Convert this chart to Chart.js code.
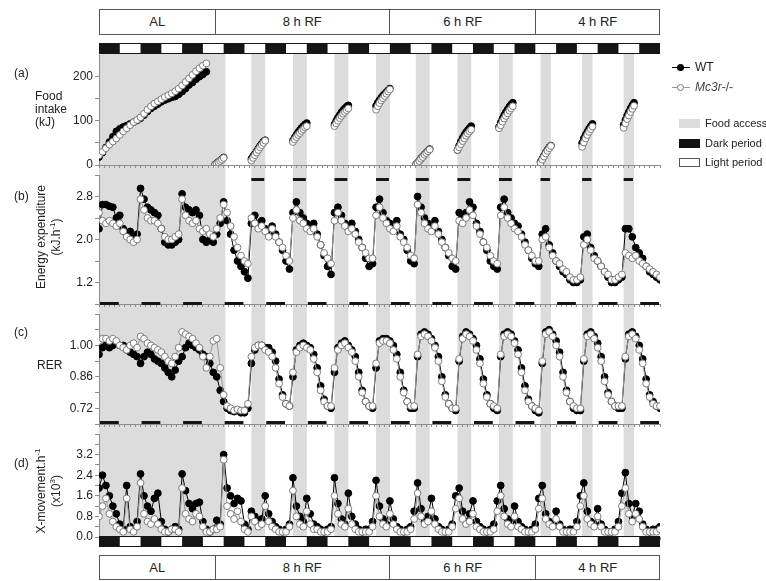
<!DOCTYPE html>
<html>
<head>
<meta charset="utf-8">
<script src="https://cdn.jsdelivr.net/npm/chart.js@4.4.1/dist/chart.umd.min.js"></script>
<style>
  body { margin: 0; background: #fff; font-family: "Liberation Sans", Arial, sans-serif; color: #222; }
  #wrap { position: relative; width: 766px; height: 581px; overflow: hidden; }
  canvas { position: absolute; left: 0; }
  .txt { position: absolute; font-size: 12px; line-height: 14px; white-space: nowrap; }
  .lg { position: absolute; font-size: 11px; line-height: 13px; white-space: nowrap; }
  .rot { position: absolute; font-size: 12px; line-height: 15px; white-space: nowrap; text-align: center;
         transform: translate(-50%, -50%) rotate(-90deg); }
  sup { font-size: 8px; line-height: 0; }
  .hdr { position: absolute; left: 99px; width: 561px; display: flex; border: 1px solid #555; box-sizing: border-box; background: #fff; }
  .hdr div { border-right: 1px solid #555; text-align: center; font-size: 13px; box-sizing: border-box;
             font-family: "Liberation Sans Narrow", "Liberation Sans", Arial, sans-serif; }
  .hdr div:last-child { border-right: none; }
  .sw { position: absolute; left: 679px; width: 21px; height: 9px; box-sizing: border-box; }
</style>
</head>
<body>
<div id="wrap">
  <canvas id="cA" width="766" height="130" style="top:40px"></canvas>
  <canvas id="cB" width="766" height="139" style="top:170px"></canvas>
  <canvas id="cC" width="766" height="120" style="top:309px"></canvas>
  <canvas id="cD" width="766" height="152" style="top:429px"></canvas>

  <div class="hdr" style="top:9px;height:26px;line-height:24px">
    <div style="width:116px">AL</div><div style="width:175px">8 h RF</div><div style="width:147px">6 h RF</div><div style="width:123px">4 h RF</div>
  </div>
  <div class="hdr" style="top:555px;height:25px;line-height:23px">
    <div style="width:116px">AL</div><div style="width:175px">8 h RF</div><div style="width:147px">6 h RF</div><div style="width:123px">4 h RF</div>
  </div>

  <div class="txt" style="left:14px;top:66px">(a)</div>
  <div class="txt" style="left:35px;top:90px;line-height:13px">Food<br>intake<br>(kJ)</div>
  <div class="txt" style="left:14px;top:189px">(b)</div>
  <div class="rot" style="left:49px;top:237px">Energy expenditure<br>(kJ.h<sup>-1</sup>)</div>
  <div class="txt" style="left:14px;top:325px">(c)</div>
  <div class="txt" style="left:37px;top:358px">RER</div>
  <div class="txt" style="left:14px;top:456px">(d)</div>
  <div class="rot" style="left:49px;top:491px">X-movement.h<sup>-1</sup><br>(x10<sup>3</sup>)</div>

  <div style="position:absolute;left:672px;top:67px;width:18px;height:1px;background:#000"></div>
  <div style="position:absolute;left:677px;top:64px;width:7px;height:7px;border-radius:50%;background:#000"></div>
  <div class="lg" style="left:695px;top:61px;font-size:12px">WT</div>
  <div style="position:absolute;left:672px;top:87px;width:18px;height:1px;background:#999"></div>
  <div style="position:absolute;left:677px;top:84px;width:7px;height:7px;border-radius:50%;background:#fff;border:1px solid #777;box-sizing:border-box"></div>
  <div class="lg" style="left:695px;top:81px;font-size:12px;color:#444"><i>Mc3r</i>-/-</div>
  <div class="sw" style="top:119px;background:#dcdcdc"></div>
  <div class="lg" style="left:705px;top:117px">Food access</div>
  <div class="sw" style="top:139px;background:#111"></div>
  <div class="lg" style="left:705px;top:137px">Dark period</div>
  <div class="sw" style="top:158px;background:#fff;border:1px solid #555"></div>
  <div class="lg" style="left:705px;top:156px">Light period</div>
</div>

<script>
// time axis (hours)
const X_MAX = 324;
const AL_END = 73;
const LIGHTS_OFF = [0, 24, 48, 72, 96, 120, 144, 168, 192, 216, 240, 264, 288, 312];
const FEED_WINDOWS = [[88, 96], [112, 120], [136, 144], [160, 168],
                      [183, 191], [207, 215], [231, 239],
                      [255, 261], [279, 285], [303, 309]];
const MINOR_HOURS = Array.from({length: 109}, (_, i) => i * 3);

// (a) food intake, cumulative kJ, in segments
const FOOD_SEG_START = [0, 67, 88, 112, 136, 160, 183, 207, 231, 255, 279, 303];
const FOOD_SEG_STEP = [2, 1, 1, 1, 1, 1, 1, 1, 1, 1, 1, 1];
const FOOD_WT = [
  [18, 28, 40, 52, 64, 76, 82, 86, 89, 93, 97, 101, 106, 113, 121, 128, 133, 138, 143, 147, 150, 153, 155, 160, 166, 173, 181, 187, 194, 200, 205, 211],
  [1, 4, 7, 10, 13, 17],
  [14, 20, 25, 31, 37, 43, 48, 53, 56],
  [55, 62, 68, 74, 79, 84, 88, 92, 95],
  [92, 100, 107, 113, 119, 124, 128, 132, 135],
  [134, 141, 147, 152, 157, 161, 165, 169, 173],
  [1, 5, 10, 15, 19, 24, 28, 32, 36],
  [34, 44, 53, 61, 68, 74, 79, 84, 88],
  [86, 96, 105, 113, 120, 126, 132, 137, 141],
  [7, 14, 21, 28, 34, 40, 44],
  [50, 60, 68, 75, 82, 88, 93],
  [91, 102, 112, 120, 128, 135, 141]
];
const FOOD_MC3R = [
  [22, 30, 38, 46, 53, 60, 68, 76, 83, 90, 97, 102, 108, 116, 125, 133, 139, 144, 149, 154, 158, 162, 167, 173, 180, 188, 196, 204, 212, 219, 225, 230],
  [0, 3, 6, 9, 12, 16],
  [10, 16, 22, 28, 34, 40, 45, 50, 55],
  [52, 58, 63, 68, 72, 77, 81, 85, 88],
  [88, 94, 100, 106, 111, 116, 120, 124, 128],
  [125, 133, 140, 146, 151, 156, 161, 166, 171],
  [0, 4, 9, 14, 18, 23, 27, 31, 35],
  [34, 40, 47, 54, 60, 66, 71, 76, 80],
  [83, 90, 98, 105, 111, 117, 123, 128, 133],
  [5, 12, 19, 26, 32, 38, 43],
  [41, 51, 60, 68, 75, 81, 87],
  [84, 94, 104, 112, 120, 127, 134]
];

// (b) energy expenditure kJ/h, every 2 h from 0 h
const EE_WT = [
  2.2, 2.65, 2.65, 2.62, 2.6, 2.4, 2.45, 2.2, 2.1, 2.15, 2.05, 2.1,
  2.95, 2.75, 2.6, 2.55, 2.5, 2.45, 2.2, 1.95, 1.9, 1.9, 1.95, 2.0,
  2.85, 2.6, 2.55, 2.5, 2.55, 2.45, 2.0, 1.95, 2.0, 1.95, 2.1, 2.3,
  2.7, 2.35, 2.1, 1.8, 1.6, 1.5, 1.4, 1.28, 2.3, 2.45, 2.3, 2.35,
  2.2, 2.1, 2.25, 2.1, 1.95, 1.8, 1.6, 1.45, 2.5, 2.7, 2.5, 2.4,
  2.3, 2.2, 2.3, 2.1, 1.9, 1.7, 1.5, 1.35, 2.5, 2.6, 2.45, 2.3,
  2.2, 2.3, 2.15, 2.0, 1.85, 1.65, 1.5, 1.55, 2.6, 2.75, 2.5, 2.35,
  2.3, 2.2, 2.35, 2.1, 2.0, 1.8, 1.6, 1.55, 2.8, 2.6, 2.4, 2.3,
  2.2, 2.35, 2.15, 2.0, 1.85, 1.7, 1.5, 1.45, 2.5, 2.45, 2.5, 2.7,
  2.6, 2.3, 2.15, 1.95, 1.8, 1.6, 1.5, 1.45, 2.6, 2.75, 2.5, 2.4,
  2.3, 2.25, 2.1, 1.95, 1.8, 1.65, 1.55, 1.5, 2.1, 2.2, 1.9, 1.75,
  1.6, 1.5, 1.4, 1.35, 1.25, 1.2, 1.2, 1.25, 2.05, 2.1, 1.85, 1.7,
  1.6, 1.5, 1.4, 1.3, 1.2, 1.2, 1.25, 1.3, 2.2, 2.2, 2.05, 1.85,
  1.75, 1.65, 1.5, 1.4, 1.35, 1.3, 1.25
];
const EE_MC3R = [
  2.5, 2.35, 2.3, 2.35, 2.3, 2.25, 2.3, 2.15, 2.05, 2.0, 1.95, 2.0,
  2.75, 2.55, 2.4, 2.35, 2.35, 2.3, 2.2, 2.05, 2.0, 2.0, 2.05, 2.1,
  2.75, 2.45, 2.35, 2.3, 2.35, 2.2, 2.15, 2.2, 2.1, 2.05, 2.2, 2.4,
  2.65, 2.5, 2.25, 2.05, 1.85, 1.7, 1.6, 1.55, 2.4, 2.3, 2.2, 2.25,
  2.15, 2.05, 2.2, 2.05, 1.95, 1.85, 1.7, 1.6, 2.4, 2.55, 2.35, 2.3,
  2.2, 2.15, 2.2, 2.05, 1.9, 1.75, 1.65, 1.55, 2.35, 2.5, 2.35, 2.25,
  2.15, 2.2, 2.1, 1.95, 1.85, 1.75, 1.65, 1.65, 2.45, 2.6, 2.4, 2.3,
  2.2, 2.15, 2.25, 2.05, 1.95, 1.85, 1.7, 1.65, 2.65, 2.5, 2.3, 2.2,
  2.15, 2.25, 2.1, 1.95, 1.85, 1.75, 1.65, 1.6, 2.35, 2.3, 2.4, 2.55,
  2.45, 2.25, 2.1, 1.95, 1.85, 1.7, 1.6, 1.55, 2.45, 2.6, 2.4, 2.3,
  2.2, 2.15, 2.05, 1.9, 1.8, 1.7, 1.6, 1.6, 2.0, 2.05, 1.85, 1.7,
  1.6, 1.55, 1.45, 1.4, 1.3, 1.25, 1.25, 1.3, 1.9, 2.0, 1.8, 1.65,
  1.6, 1.5, 1.4, 1.35, 1.25, 1.25, 1.3, 1.35, 1.75, 1.7, 1.65, 1.7,
  1.6, 1.55, 1.5, 1.45, 1.4, 1.35, 1.3
];

// (c) RER, every 2 h
const RER_WT = [
  0.96, 0.99, 1.0, 0.99, 1.0, 1.01, 1.0, 1.0, 0.98, 0.97, 0.96, 0.95,
  0.92, 0.95, 0.97, 0.96, 0.94, 0.93, 0.92, 0.9, 0.88, 0.86, 0.89, 0.93,
  0.95, 0.99, 1.01, 1.0, 0.99, 0.98, 0.96, 0.95, 0.92, 0.88, 0.86, 0.8,
  0.75, 0.72, 0.71, 0.705, 0.71, 0.70, 0.70, 0.72, 0.92, 0.98, 1.0, 1.0,
  0.99, 0.99, 0.97, 0.93, 0.85, 0.78, 0.74, 0.73, 0.86, 0.98, 1.0, 1.01,
  1.0, 0.99, 0.96, 0.9, 0.82, 0.76, 0.73, 0.72, 0.88, 0.99, 1.01, 1.02,
  1.0, 0.98, 0.95, 0.88, 0.8, 0.75, 0.73, 0.72, 0.9, 1.02, 1.03, 1.03,
  1.02, 1.0, 0.96, 0.88, 0.8, 0.75, 0.72, 0.72, 0.95, 1.05, 1.06, 1.05,
  1.03, 1.0, 0.95, 0.86, 0.78, 0.74, 0.72, 0.71, 0.93, 1.04, 1.06, 1.05,
  1.03, 1.0, 0.94, 0.85, 0.78, 0.74, 0.72, 0.71, 0.95, 1.05, 1.06, 1.05,
  1.02, 0.98, 0.9, 0.82, 0.76, 0.73, 0.71, 0.70, 0.92, 1.06, 1.07, 1.05,
  1.02, 0.97, 0.88, 0.8, 0.75, 0.72, 0.71, 0.71, 0.93, 1.05, 1.06, 1.04,
  1.01, 0.95, 0.86, 0.79, 0.75, 0.73, 0.72, 0.72, 0.94, 1.05, 1.06, 1.04,
  1.0, 0.94, 0.85, 0.78, 0.75, 0.73, 0.72
];
const RER_MC3R = [
  1.02, 1.03, 1.03, 1.02, 1.03, 1.02, 1.0, 0.99, 0.98, 1.0, 1.01, 0.99,
  1.04, 1.03, 1.01, 1.0, 0.99, 0.98, 0.97, 0.95, 0.93, 0.92, 0.95, 0.99,
  1.06, 1.05, 1.04, 1.03, 1.01, 0.99, 0.95, 0.9, 0.95, 1.02, 1.03, 0.9,
  0.78, 0.73, 0.72, 0.71, 0.715, 0.71, 0.71, 0.74, 0.95, 0.99, 1.0, 1.0,
  0.98, 0.97, 0.95, 0.9, 0.83, 0.77, 0.74, 0.73, 0.88, 0.97, 0.99, 1.0,
  0.99, 0.98, 0.94, 0.88, 0.8, 0.75, 0.73, 0.73, 0.9, 0.98, 1.0, 1.01,
  0.99, 0.97, 0.93, 0.86, 0.79, 0.75, 0.73, 0.73, 0.92, 1.01, 1.02, 1.02,
  1.01, 0.98, 0.94, 0.86, 0.79, 0.75, 0.73, 0.73, 0.96, 1.04, 1.05, 1.04,
  1.02, 0.99, 0.93, 0.84, 0.77, 0.74, 0.72, 0.72, 0.94, 1.03, 1.05, 1.04,
  1.02, 0.98, 0.92, 0.83, 0.77, 0.74, 0.73, 0.72, 0.96, 1.04, 1.05, 1.04,
  1.01, 0.96, 0.88, 0.8, 0.75, 0.73, 0.72, 0.71, 0.93, 1.05, 1.06, 1.04,
  1.0, 0.95, 0.86, 0.79, 0.75, 0.73, 0.72, 0.72, 0.94, 1.04, 1.05, 1.03,
  0.99, 0.93, 0.84, 0.78, 0.75, 0.73, 0.73, 0.73, 0.95, 1.04, 1.05, 1.03,
  0.98, 0.92, 0.83, 0.77, 0.74, 0.73, 0.73
];

// (d) X-movement per hour (x10^3), every 2 h
const MOVE_WT = [
  1.9, 2.4, 2.0, 1.6, 1.2, 0.9, 0.5, 0.3, 2.0, 0.4, 0.3, 0.6,
  2.45, 1.6, 1.2, 1.0, 1.5, 1.7, 0.6, 0.3, 0.2, 0.3, 0.4, 0.3,
  2.45, 1.8, 1.3, 1.1, 1.3, 1.35, 0.6, 0.3, 0.2, 0.3, 0.65, 0.5,
  3.2, 1.9, 1.6, 1.3, 1.5, 1.4, 0.5, 0.3, 1.0, 0.8, 0.5, 0.7,
  1.6, 0.9, 0.6, 0.4, 0.3, 0.2, 0.3, 0.5, 2.3, 1.2, 0.8, 0.6,
  1.5, 0.9, 0.5, 0.4, 0.3, 0.2, 0.3, 0.4, 2.3, 1.3, 0.7, 0.5,
  1.7, 0.8, 0.5, 0.3, 0.2, 0.3, 0.3, 0.6, 2.2, 1.2, 0.7, 0.5,
  1.4, 0.7, 0.4, 0.3, 0.2, 0.3, 0.4, 1.0, 2.1, 1.1, 0.6, 0.8,
  1.5, 0.7, 0.4, 0.3, 0.2, 0.3, 0.5, 1.6, 1.9, 1.0, 0.6, 0.9,
  1.4, 0.6, 0.4, 0.3, 0.2, 0.3, 0.5, 1.4, 2.0, 1.1, 0.7, 0.6,
  1.2, 0.6, 0.4, 0.3, 0.2, 0.3, 0.5, 1.5, 2.0, 0.9, 0.6, 0.5,
  1.0, 0.5, 0.3, 0.2, 0.3, 0.3, 0.6, 1.6, 2.1, 1.0, 0.6, 0.5,
  1.1, 0.5, 0.3, 0.2, 0.2, 0.3, 0.6, 1.7, 2.5, 1.3, 0.8, 1.3,
  1.0, 0.5, 0.3, 0.2, 0.3, 0.3, 0.4
];
const MOVE_MC3R = [
  0.8, 1.2, 1.5, 0.9, 0.6, 0.4, 0.3, 0.2, 1.5, 0.3, 0.2, 0.4,
  2.1, 0.9, 0.6, 0.5, 0.7, 0.5, 0.3, 0.2, 0.2, 0.3, 0.3, 0.2,
  1.9, 0.9, 0.7, 0.6, 0.9, 0.8, 0.4, 0.2, 0.2, 0.3, 0.3, 0.4,
  3.0, 1.2, 0.9, 0.7, 1.0, 0.6, 0.3, 0.2, 0.8, 0.6, 0.4, 0.5,
  1.2, 0.6, 0.4, 0.3, 0.2, 0.2, 0.2, 0.4, 1.8, 0.8, 0.5, 0.4,
  1.0, 0.5, 0.3, 0.3, 0.2, 0.2, 0.2, 0.3, 1.6, 0.9, 0.5, 0.4,
  1.1, 0.5, 0.3, 0.2, 0.2, 0.2, 0.2, 0.4, 1.6, 0.8, 0.5, 0.4,
  0.9, 0.5, 0.3, 0.2, 0.2, 0.2, 0.3, 0.7, 1.7, 0.8, 0.5, 0.6,
  1.0, 0.5, 0.3, 0.2, 0.2, 0.2, 0.4, 1.1, 1.5, 0.7, 0.5, 0.6,
  0.9, 0.4, 0.3, 0.2, 0.2, 0.2, 0.3, 1.0, 1.6, 0.8, 0.5, 0.4,
  0.8, 0.4, 0.3, 0.2, 0.2, 0.2, 0.3, 1.1, 1.5, 0.7, 0.5, 0.4,
  0.7, 0.4, 0.2, 0.2, 0.2, 0.2, 0.4, 1.2, 1.6, 0.7, 0.5, 0.4,
  0.8, 0.4, 0.2, 0.2, 0.2, 0.2, 0.4, 1.2, 1.9, 0.9, 0.6, 0.9,
  0.7, 0.4, 0.2, 0.2, 0.2, 0.2, 0.3
];

// y ticks
const FOOD_TICKS = [0, 50, 100, 150, 200];
const FOOD_LABELS = [0, 100, 200];
const EE_TICKS = [0.8, 1.2, 1.6, 2.0, 2.4, 2.8, 3.2];
const EE_LABELS = [1.2, 2.0, 2.8];
const RER_TICKS = [0.65, 0.72, 0.79, 0.86, 0.93, 1.00, 1.07, 1.14];
const RER_LABELS = [0.72, 0.86, 1.00];
const MOVE_TICKS = [0, 0.4, 0.8, 1.2, 1.6, 2.0, 2.4, 2.8, 3.2, 3.6, 4.0];
const MOVE_LABELS = [0, 0.8, 1.6, 2.4, 3.2];

const FONT = {family: '"Liberation Sans", Arial, sans-serif', size: 12};
const AXIS_GREY = '#8c8c8c';

const hoursOf = arr => arr.map((_, i) => i * 2);
const pts = arr => hoursOf(arr).map((h, i) => ({x: h, y: arr[i]}));

function foodPoints(series) {
  const out = [];
  series.forEach((vals, s) => {
    if (s > 0) out.push({x: FOOD_SEG_START[s] - 0.5, y: null});
    vals.forEach((v, i) => out.push({x: FOOD_SEG_START[s] + i * FOOD_SEG_STEP[s], y: v}));
  });
  return out;
}

function wtSet(data) {
  return {label: 'WT', data, borderColor: '#000', borderWidth: 1,
          pointRadius: 3.4, pointBackgroundColor: '#000', pointBorderColor: '#000', pointBorderWidth: 1};
}
function mcSet(data) {
  return {label: 'Mc3r-/-', data, borderColor: '#999', borderWidth: 1,
          pointRadius: 3.4, pointBackgroundColor: '#fff', pointBorderColor: '#6f6f6f', pointBorderWidth: 0.9};
}

function xScale() {
  return {
    type: 'linear', min: 0, max: X_MAX,
    afterBuildTicks: s => { s.ticks = MINOR_HOURS.map(v => ({value: v})); },
    ticks: {display: false, autoSkip: false},
    grid: {drawOnChartArea: false, drawTicks: true, tickLength: 3, color: AXIS_GREY},
    border: {color: AXIS_GREY},
    afterFit: s => { s.height = 3; s.paddingLeft = 0; s.paddingRight = 0; }
  };
}
function yScale(min, max, ticks, labels, digits) {
  return {
    type: 'linear', min, max,
    afterBuildTicks: s => { s.ticks = ticks.map(v => ({value: v})); },
    ticks: {
      autoSkip: false, padding: 2, color: '#222', font: FONT,
      callback: v => labels.some(l => Math.abs(l - v) < 1e-6) ? v.toFixed(digits) : ''
    },
    grid: {drawOnChartArea: false, drawTicks: true, tickLength: 4, color: AXIS_GREY},
    border: {color: AXIS_GREY},
    afterFit: s => { s.width = 99; s.paddingTop = 0; s.paddingBottom = 0; }
  };
}

const decor = {
  id: 'decor',
  beforeDraw(chart, _a, o) {
    const {ctx, scales: {x}} = chart;
    const px = v => x.getPixelForValue(v);
    const top = o.bgTop || 0;
    const h = (o.bgBottom || chart.height) - top;
    ctx.save();
    ctx.fillStyle = '#dcdcdc';
    ctx.fillRect(px(0), top, px(AL_END) - px(0), h);
    FEED_WINDOWS.forEach(([a, b]) => ctx.fillRect(px(a), top, px(b) - px(a), h));
    ctx.restore();
  },
  afterDraw(chart, _a, o) {
    const {ctx, scales: {x}} = chart;
    const px = v => x.getPixelForValue(v);
    ctx.save();
    if (o.dayBar) {
      const [y, h] = o.dayBar;
      ctx.fillStyle = '#fff';
      ctx.fillRect(px(0), y, px(X_MAX) - px(0), h);
      ctx.fillStyle = '#151515';
      LIGHTS_OFF.forEach(t => ctx.fillRect(px(t), y, px(t + 12) - px(t), h));
      ctx.strokeStyle = '#151515';
      ctx.lineWidth = 1;
      ctx.strokeRect(px(0) + 0.5, y + 0.5, px(X_MAX) - px(0) - 1, h - 1);
    }
    ctx.fillStyle = '#151515';
    if (o.darkMarks) {
      const [y, h] = o.darkMarks;
      LIGHTS_OFF.forEach(t => ctx.fillRect(px(t) + 1, y, px(t + 12) - px(t) - 2, h));
    }
    if (o.feedMarks) {
      const [y, h] = o.feedMarks;
      FEED_WINDOWS.forEach(([a, b]) => ctx.fillRect(px(a), y, px(b) - px(a) - 1, h));
    }
    ctx.restore();
  }
};

function panel(id, datasets, y, pad, decorOpts) {
  new Chart(document.getElementById(id), {
    type: 'line',
    data: {datasets},
    plugins: [decor],
    options: {
      responsive: false, animation: false, devicePixelRatio: 1,
      layout: {padding: {left: 0, right: 106, top: pad[0], bottom: pad[1]}},
      spanGaps: false,
      elements: {line: {tension: 0}},
      scales: {x: xScale(), y},
      plugins: {legend: {display: false}, tooltip: {enabled: false}, decor: decorOpts}
    }
  });
}

panel('cA', [mcSet(foodPoints(FOOD_MC3R)), wtSet(foodPoints(FOOD_WT))],
      yScale(0, 249, FOOD_TICKS, FOOD_LABELS, 0), [15, 0],
      {bgTop: 13, dayBar: [3, 11]});
panel('cB', [mcSet(pts(EE_MC3R)), wtSet(pts(EE_WT))],
      yScale(0.8, 3.2, EE_TICKS, EE_LABELS, 1), [4, 0],
      {darkMarks: [132, 3], feedMarks: [8, 3]});
panel('cC', [mcSet(pts(RER_MC3R)), wtSet(pts(RER_WT))],
      yScale(0.65, 1.14, RER_TICKS, RER_LABELS, 2), [4, 0],
      {darkMarks: [112, 3]});
panel('cD', [mcSet(pts(MOVE_MC3R)), wtSet(pts(MOVE_WT))],
      yScale(0, 4.0, MOVE_TICKS, MOVE_LABELS, 1), [4, 41],
      {bgBottom: 107, dayBar: [107, 11]});
</script>
</body>
</html>
